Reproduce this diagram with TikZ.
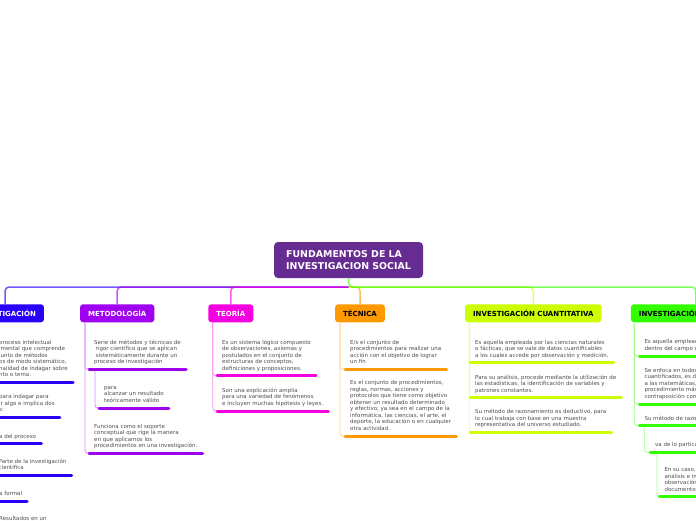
\documentclass[tikz,border=0pt]{standalone}
\usepackage{fontspec}
\setmainfont{DejaVu Sans}
\usepackage{tikz}
\usetikzlibrary{positioning}

\definecolor{raizc}{RGB}{102,44,145}
\definecolor{azul}{RGB}{40,0,250}
\definecolor{meto}{RGB}{160,0,240}
\definecolor{teor}{RGB}{245,0,225}
\definecolor{tecn}{RGB}{255,153,0}
\definecolor{cuan}{RGB}{204,255,0}
\definecolor{cual}{RGB}{51,255,0}
\definecolor{gris}{RGB}{77,77,77}

\begin{document}
\begin{tikzpicture}[
        x=1pt, y=-1pt,
        font=\fontsize{5.5}{6.5}\selectfont,
        root/.style={fill=raizc, text=white, rounded corners=4pt, align=left, minimum width=149pt, minimum height=36pt, font=\fontsize{9.4}{11.2}\selectfont\bfseries},
        head/.style={fill=#1, rounded corners=3pt, minimum height=18pt, inner xsep=8pt, inner ysep=0pt, font=\fontsize{7}{8}\selectfont\bfseries},
        item/.style={anchor=south west, align=left, inner xsep=5pt, inner ysep=3.5pt, text=gris, execute at end node=\strut},
        bar/.style={draw=#1, line width=3pt, line cap=round},
        trunk/.style={draw=#1!45, line width=0.8pt, rounded corners=3pt},
        link/.style={draw=#1, draw opacity=0.65, line width=1.5pt, rounded corners=4pt}
    ]
        \useasboundingbox (0,0) rectangle (696,520);

        % --- Raíz ---
        \node[root] (raiz) at (348.5,260) {FUNDAMENTOS DE LA\\INVESTIGACION SOCIAL};
        \coordinate (hub) at (348.5,287);

        % --- Ramas ---
        \node[head=azul, text=white] (inv) at (5,313.3) {INVESTIGACIÓN};
        \node[head=meto, text=white] (met) at (117.2,313.3) {METODOLOGÍA};
        \node[head=teor, text=white] (teo) at (230.8,313.3) {TEORÍA};
        \node[head=tecn, text=black] (tec) at (360,313.3) {TÉCNICA};
        \node[head=cuan, text=black] (cnt) at (533.3,313.3) {INVESTIGACIÓN CUANTITATIVA};
        \node[head=cual, text=black, anchor=west] (cul) at (630.7,313.3) {INVESTIGACIÓN CUALITATIVA};
        \draw[link=azul] (hub) -| (inv.north);
        \draw[link=meto] (hub) -| (met.north);
        \draw[link=teor] (hub) -| (teo.north);
        \draw[link=tecn] (hub) -| (tec.north);
        \draw[link=cuan] (hub) -| (cnt.north);
        \draw[link=cual] (raiz.south) -- (hub) -| (cul.north);

        % --- Investigación ---
        \node[item] (i1) at (-6,382.3) {proceso intelectual\\imental que comprende\\junto de métodos\\os de modo sistemático,\\nalidad de indagar sobre\\nto o tema.};
        \node[item] (i2) at (-6,417.3) {para indagar para\\ir algo e implica dos\\s:};
        \node[item] (i3) at (-6,443.7) {a del proceso};
        \node[item] (i4) at (-6.5,475.3) {Parte de la investigación\\científica};
        \node[item] (i5) at (-6,501.3) {a formal};
        \node[item] (i6) at (-6,526.5) {Resultados en un};
        \draw[trunk=azul] ([xshift=5pt]inv.south west) |- (i1.south west);
        \draw[trunk=azul] ([xshift=5pt]inv.south west) |- (i2.south west);
        \draw[trunk=azul] ([xshift=5pt]inv.south west) |- (i6.south west);
        \draw[bar=azul] (i1.south west) -- (i1.south east);
        \draw[bar=azul] (i2.south west) -- (i2.south east);
        \draw[bar=azul] (i3.south west) -- (i3.south east);
        \draw[bar=azul] (i4.south west) -- (i4.south east);
        \draw[bar=azul] (i5.south west) -- (i5.south east);
        \draw[bar=azul] (i6.south west) -- (i6.south east);

        % --- Metodología ---
        \node[item] (m1) at (89,369.3) {Serie de métodos y técnicas de\\\hspace*{1.6pt}rigor científico que se aplican\\\hspace*{1.6pt}sistemáticamente durante un\\proceso de investigación};
        \node[item] (m2) at (99,408) {para\\alcanzar un resultado\\teóricamente válido};
        \node[item] (m3) at (89,453.3) {Funciona como el soporte\\conceptual que rige la manera\\en que aplicamos los\\procedimientos en una investigación.};
        \draw[trunk=meto] ([xshift=5pt]met.south west) |- (m1.south west);
        \draw[trunk=meto] ([xshift=5pt]met.south west) |- (m3.south west);
        \draw[trunk=meto] ([xshift=6pt]m1.south west) |- (m2.south west);
        \draw[bar=meto] (m1.south west) -- (m1.south east);
        \draw[bar=meto] (m2.south west) -- (m2.south east);
        \draw[bar=meto] (m3.south west) -- (m3.south east);

        % --- Teoría ---
        \node[item] (t1) at (217,375.7) {Es un sistema lógico compuesto\\de observaciones, axiomas y\\postulados en el conjunto de\\estructuras de conceptos,\\definiciones y proposiciones.};
        \node[item] (t2) at (217,411) {Son una explicación amplia\\para una variedad de fenómenos\\e incluyen muchas hipótesis y leyes.};
        \draw[trunk=teor] ([xshift=4.7pt]teo.south west) |- (t1.south west);
        \draw[trunk=teor] ([xshift=4.7pt]teo.south west) |- (t2.south west);
        \draw[bar=teor] (t1.south west) -- (t1.south east);
        \draw[bar=teor] (t2.south west) -- (t2.south east);

        % --- Técnica ---
        \node[item] (c1) at (345,369.3) {E/s el conjunto de\\procedimientos para realizar una\\acción con el objetivo de lograr\\un fin};
        \node[item] (c2) at (345,436) {Es el conjunto de procedimientos,\\reglas, normas, acciones y\\protocolos que tiene como objetivo\\obtener un resultado determinado\\y efectivo, ya sea en el campo de la\\informática, las ciencias, el arte, el\\deporte, la educación o en cualquier\\otra actividad.};
        \draw[trunk=tecn] ([xshift=5pt]tec.south west) |- (c1.south west);
        \draw[trunk=tecn] ([xshift=5pt]tec.south west) |- (c2.south west);
        \draw[bar=tecn] (c1.south west) -- (c1.south east);
        \draw[bar=tecn] (c2.south west) -- (c2.south east);

        % --- Investigación cuantitativa ---
        \node[item] (q1) at (470,362.7) {Es aquella empleada por las ciencias naturales\\o fácticas, que se vale de datos cuantificables\\a los cuales accede por observación y medición.};
        \node[item] (q2) at (470,397.7) {Para su análisis, procede mediante la utilización de\\las estadísticas, la identificación de variables y\\patrones constantes.};
        \node[item] (q3) at (470,432.3) {Su método de razonamiento es deductivo, para\\lo cual trabaja con base en una muestra\\representativa del universo estudiado.};
        \draw[trunk=cuan] ([xshift=4.4pt]cnt.south west) |- (q1.south west);
        \draw[trunk=cuan] ([xshift=4.4pt]cnt.south west) |- (q2.south west);
        \draw[trunk=cuan] ([xshift=4.4pt]cnt.south west) |- (q3.south west);
        \draw[bar=cuan] (q1.south west) -- (q1.south east);
        \draw[bar=cuan] (q2.south west) -- (q2.south east);
        \draw[bar=cuan] (q3.south west) -- (q3.south east);

        % --- Investigación cualitativa ---
        \node[item] (l1) at (639.3,356) {Es aquella empleada\\dentro del campo de};
        \node[item] (l2) at (639.3,404) {Se enfoca en todos los\\cuantificados, es decir\\a las matemáticas, al\\procedimiento más\\contraposición con};
        \node[item] (l3) at (639.3,425.7) {Su método de razonamiento};
        \node[item] (l4) at (650,452.3) {va de lo particular};
        \node[item] (l5) at (659.3,496.7) {En su caso,\\análisis e interpretación\\observación\\documentos};
        \draw[trunk=cual] ([xshift=3.5pt]cul.south west) |- (l1.south west);
        \draw[trunk=cual] ([xshift=3.5pt]cul.south west) |- (l2.south west);
        \draw[trunk=cual] ([xshift=3.5pt]cul.south west) |- (l3.south west);
        \draw[trunk=cual] ([xshift=5pt]l3.south west) |- (l4.south west);
        \draw[trunk=cual] ([xshift=7pt]l4.south west) |- (l5.south west);
        \draw[bar=cual] (l1.south west) -- (l1.south east);
        \draw[bar=cual] (l2.south west) -- (l2.south east);
        \draw[bar=cual] (l3.south west) -- (l3.south east);
        \draw[bar=cual] (l4.south west) -- (l4.south east);
        \draw[bar=cual] (l5.south west) -- (l5.south east);
    \end{tikzpicture}
\end{document}
